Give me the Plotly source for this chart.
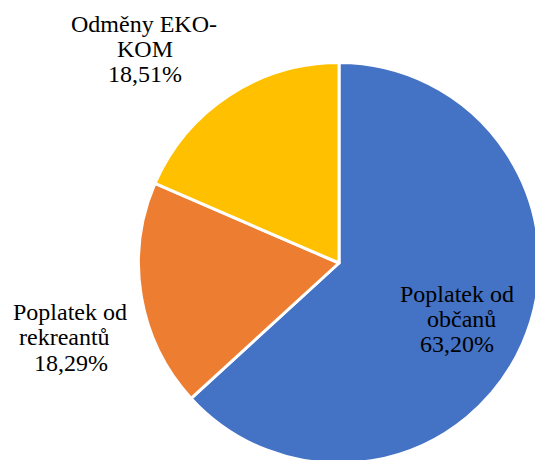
import plotly.graph_objects as go

# ---- data ----
labels = ["Poplatek od občanů", "Poplatek od rekreantů", "Odměny EKO-KOM"]
values = [63.20, 18.29, 18.51]
colors = ["#4472C4", "#ED7D31", "#FFC000"]
# display lines for each label (label lines + percent)
label_lines = [
    ["Poplatek od", "občanů"],
    ["Poplatek od", "rekreantů"],
    ["Odměny EKO-", "KOM"],
]

W, H = 545, 470
cx, cy, r = 339, 263, 200.5

fig = go.Figure(go.Pie(
    labels=labels,
    values=values,
    sort=False,
    direction="clockwise",
    rotation=0,
    marker=dict(colors=colors, line=dict(color="white", width=3)),
    textinfo="none",
    hoverinfo="label+percent",
    showlegend=False,
    domain=dict(x=[(cx - r) / W, (cx + r) / W], y=[1 - (cy + r) / H, 1 - (cy - r) / H]),
))

# label positions (pixel center x, baseline y) per line
label_pos = [
    ([457, 461, 457], [302, 327, 352]),
    ([70, 64, 71], [320, 345, 371]),
    ([144, 145, 145], [32, 57, 82]),
]

FONT = "'Times New Roman', 'Liberation Serif', Tinos, serif"

annotations = []
for lines, v, (xs, ys) in zip(label_lines, values, label_pos):
    texts = lines + [f"{v:.2f}%".replace(".", ",")]
    for t, x, y in zip(texts, xs, ys):
        annotations.append(dict(
            text=t, x=x / W, y=1 - (y - 8) / H, xref="paper", yref="paper",
            xanchor="center", yanchor="middle", showarrow=False,
            font=dict(family=FONT, size=24, color="#000000"),
        ))

fig.update_layout(
    width=W, height=H,
    margin=dict(l=0, r=0, t=0, b=0),
    paper_bgcolor="white",
    plot_bgcolor="white",
    annotations=annotations,
    font=dict(family=FONT),
)

fig.write_html(
    "out.html",
    config={"displayModeBar": False},
    post_script="document.body.style.margin='0';document.body.style.overflow='hidden';document.documentElement.style.overflow='hidden';",
)
